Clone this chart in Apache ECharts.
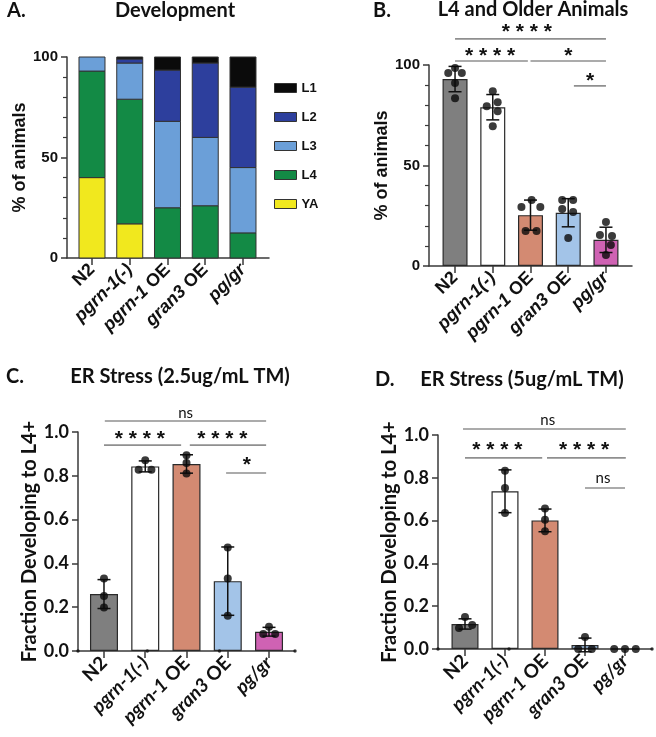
<!DOCTYPE html>
<html>
<head>
<meta charset="utf-8">
<script src="https://cdn.jsdelivr.net/npm/echarts@6/dist/echarts.min.js"></script>
<style>
  html, body { margin: 0; padding: 0; background: #fff; }
  #fig { width: 656px; height: 737px; }
</style>
</head>
<body>
<div id="fig"></div>
<script>
// strains (x categories)
var cats = ['N2', 'pgrn-1(-)', 'pgrn-1 OE', 'gran3 OE', 'pg/gr'];
var catRich = ['N2', '{i|pgrn-1(-)}', '{i|pgrn-1} OE', '{i|gran3} OE', '{i|pg/gr}'];

// A. Development (% of animals per stage, stacked bottom -> top)
var stages = ['L1', 'L2', 'L3', 'L4', 'YA'];
var devYA = [40, 17, 0, 0, 0];
var devL4 = [53, 62, 25, 26, 12.5];
var devL3 = [7, 18, 43, 34, 32.5];
var devL2 = [0, 2, 25.5, 37, 40];
var devL1 = [0, 1, 6.5, 3, 15];

// B. L4 and older animals (%)
var olderMean = [93, 79, 25.3, 26.5, 13];
var olderSd = [6.3, 6.3, 7.5, 7, 6.3];
var olderPts = [[98.5, 96, 96, 91, 83.5], [87, 79.5, 81.5, 77, 69.5], [32.8, 29.4, 29.4, 17.4, 17.4],
                [32.8, 32.8, 28.4, 26.9, 13.9], [21.9, 15.4, 14.9, 10.4, 5.5]];
var olderJit = [[0, -0.18, 0.18, 0, 0], [0, -0.16, 0.13, 0.13, 0], [0.03, -0.24, 0.26, -0.13, 0.16],
                [-0.16, 0.13, -0.16, 0.13, 0], [0, -0.16, 0.16, 0.13, 0]];
var olderBrackets = [[0, 4, 113], [0, 1.93, 102], [2, 4, 102], [3.15, 4, 89.6]];
var olderStars = [[1.9, 116.5, '* * * *'], [0.93, 104.5, '* * * *'], [3, 104.5, '*'], [3.58, 92, '*']];

// C. ER stress 2.5ug/mL TM (fraction developing to L4+)
var tm25Mean = [0.26, 0.843, 0.854, 0.319, 0.088];
var tm25Sd = [0.066, 0.025, 0.042, 0.156, 0.02];
var tm25Pts = [[0.331, 0.251, 0.199], [0.871, 0.828, 0.828], [0.894, 0.859, 0.81], [0.473, 0.331, 0.161], [0.111, 0.078, 0.078]];
var tm25Jit = [[0, 0, 0], [0, -0.16, 0.15], [0, 0, 0], [0, 0, 0], [0, -0.14, 0.15]];
var tm25Stray = [-0.63, 1.05, 2.8, 4.63];
var tm25Brackets = [[0.02, 3.93, 1.05], [0, 1.87, 0.94], [2.08, 3.93, 0.94], [2.96, 3.93, 0.813]];
var tm25Stars = [[1.98, 1.087, 'ns'], [0.87, 0.967, '* * * *'], [2.87, 0.967, '* * * *'], [3.46, 0.848, '*']];

// D. ER stress 5ug/mL TM
var tm5Mean = [0.117, 0.737, 0.601, 0.019, 0];
var tm5Sd = [0.024, 0.1, 0.053, 0.032, 0];
var tm5Pts = [[0.15, 0.098, 0.112], [0.833, 0.752, 0.636], [0.656, 0.604, 0.55], [0.056, 0, 0], [0, 0, 0]];
var tm5Jit = [[0, -0.15, 0.18], [0, 0, 0], [0, 0, 0], [0, -0.17, 0.17], [-0.27, 0, 0.27]];
var tm5Stray = [-0.675, 1.1, 4.675];
var tm5Brackets = [[-0.05, 4.02, 1.028], [0, 1.93, 0.893], [2.05, 4.02, 0.893], [3.0, 4.0, 0.752]];
var tm5Stars = [[2.07, 1.07, 'ns'], [0.81, 0.93, '* * * *'], [2.98, 0.93, '* * * *'], [3.45, 0.8, 'ns']];

var stageColors = { L1: '#0b0b0b', L2: '#2d3f9d', L3: '#6b9fd8', L4: '#138a45', YA: '#f1e81e' };
var strainColors = ['#7f7f7f', '#ffffff', '#d38a72', '#a3c4e8', '#cf62b3'];

var ARIAL = '"Liberation Sans", Arial, sans-serif';
var CAL = 'Lato, "Open Sans", sans-serif';

var fig = echarts.init(document.getElementById('fig'));

function xAxisFor(i, min, max, font, size) {
  return {
    type: 'value', gridIndex: i, min: min, max: max,
    splitLine: { show: false },
    axisLine: { onZero: false, lineStyle: { color: '#3a3a3a', width: 1.5 } },
    axisTick: { customValues: [0, 1, 2, 3, 4], length: 7, lineStyle: { color: '#3a3a3a', width: 1.5 } },
    axisLabel: {
      customValues: [0, 1, 2, 3, 4], rotate: 45, margin: 9,
      fontFamily: font, fontWeight: 'bold', fontSize: size, color: '#111',
      formatter: function (v) { return catRich[Math.round(v)]; },
      rich: { i: { fontFamily: font, fontWeight: 'bold', fontStyle: 'italic', fontSize: size, color: '#111' } }
    }
  };
}

function yAxisFor(i, max, interval, minor, name, gap, font, size, nameSize, digits) {
  return {
    type: 'value', gridIndex: i, min: 0, max: max, interval: interval,
    name: name, nameLocation: 'middle', nameGap: gap,
    nameTextStyle: { fontFamily: font, fontWeight: 'bold', fontSize: nameSize, color: '#111' },
    splitLine: { show: false },
    axisLine: { show: true, onZero: false, lineStyle: { color: '#3a3a3a', width: 1.5 } },
    axisTick: { show: true, length: 6, lineStyle: { color: '#3a3a3a', width: 1.5 } },
    minorTick: { show: minor, splitNumber: 5, length: 4, lineStyle: { color: '#3a3a3a', width: 1.2 } },
    axisLabel: {
      fontFamily: font, fontWeight: 'bold', fontSize: size, color: '#111', margin: 9,
      formatter: function (v) { return digits ? v.toFixed(digits) : String(v); }
    }
  };
}

// stacked development bars, drawn as rects between running totals
var stackOrder = [['YA', devYA], ['L4', devL4], ['L3', devL3], ['L2', devL2], ['L1', devL1]];
var running = [0, 0, 0, 0, 0];
var stageSeries = stackOrder.map(function (s) {
  var below = running.slice();
  running = running.map(function (r, k) { return r + s[1][k]; });
  return {
    name: s[0], type: 'custom', xAxisIndex: 0, yAxisIndex: 0, z: 2,
    itemStyle: { color: stageColors[s[0]], borderColor: '#333', borderWidth: 1 },
    encode: { x: 0, y: [1, 2] },
    data: s[1].map(function (v, k) { return [k, below[k] + v, below[k]]; }),
    renderItem: function (params, api) {
      var top = api.coord([api.value(0), api.value(1)]);
      var bot = api.coord([api.value(0), api.value(2)]);
      if (bot[1] - top[1] < 0.01) return;
      return {
        type: 'rect',
        shape: { x: top[0] - 13, y: top[1], width: 26, height: bot[1] - top[1] },
        style: { fill: stageColors[s[0]], stroke: '#333', lineWidth: 1 }
      };
    }
  };
});

function meanBars(i, means, width) {
  return {
    type: 'bar', xAxisIndex: i, yAxisIndex: i, barWidth: width, z: 2,
    data: means.map(function (v, k) {
      return { value: [k, v], itemStyle: { color: strainColors[k], borderColor: '#2a2a2a', borderWidth: 1.2 } };
    })
  };
}

function errorBars(i, means, sds) {
  return {
    type: 'custom', xAxisIndex: i, yAxisIndex: i, z: 4,
    data: means.map(function (v, k) { return [k, v, sds[k]]; }),
    renderItem: function (params, api) {
      var x = api.value(0), m = api.value(1), s = api.value(2);
      if (!s) return;
      var hi = api.coord([x, m + s]), lo = api.coord([x, m - s]);
      var st = { stroke: '#111', lineWidth: 1.5 };
      return {
        type: 'group', children: [
          { type: 'line', shape: { x1: hi[0], y1: hi[1], x2: lo[0], y2: lo[1] }, style: st },
          { type: 'line', shape: { x1: hi[0] - 6.5, y1: hi[1], x2: hi[0] + 6.5, y2: hi[1] }, style: st },
          { type: 'line', shape: { x1: lo[0] - 6.5, y1: lo[1], x2: lo[0] + 6.5, y2: lo[1] }, style: st }
        ]
      };
    }
  };
}

function dots(i, pts, jit) {
  var data = [];
  pts.forEach(function (row, k) {
    row.forEach(function (v, j) { data.push([k + jit[k][j], v]); });
  });
  return {
    type: 'scatter', xAxisIndex: i, yAxisIndex: i, z: 5, symbolSize: 8,
    itemStyle: { color: '#0a0a0a' }, data: data
  };
}

function strayDots(i, xs) {
  return {
    type: 'scatter', xAxisIndex: i, yAxisIndex: i, z: 5, symbolSize: 3.5,
    itemStyle: { color: '#111' }, data: xs.map(function (x) { return [x, 0]; })
  };
}

function brackets(i, list) {
  return {
    type: 'custom', xAxisIndex: i, yAxisIndex: i, z: 3, clip: false,
    data: list.map(function (b) { return [b[0], b[2]]; }),
    renderItem: function (params, api) {
      var b = list[params.dataIndex];
      var p1 = api.coord([b[0], b[2]]), p2 = api.coord([b[1], b[2]]);
      return { type: 'line', shape: { x1: p1[0], y1: p1[1], x2: p2[0], y2: p2[1] },
               style: { stroke: '#8f8f8f', lineWidth: 1.6 } };
    }
  };
}

function starLabels(i, list) {
  return {
    type: 'custom', xAxisIndex: i, yAxisIndex: i, z: 3, clip: false,
    data: list.map(function (s) { return [s[0], s[1]]; }),
    renderItem: function (params, api) {
      var s = list[params.dataIndex];
      var p = api.coord([s[0], s[1]]);
      var isNs = s[2] === 'ns';
      return {
        type: 'text', x: p[0], y: p[1],
        style: {
          text: s[2], align: 'center', verticalAlign: 'middle', fill: '#111',
          fontFamily: isNs ? CAL : ARIAL, fontWeight: isNs ? 'normal' : 'bold',
          fontSize: isNs ? 15 : 21
        }
      };
    }
  };
}

function heading(text, left, top, center) {
  return {
    text: text, left: left, top: top, textAlign: center ? 'center' : 'left',
    textStyle: { fontFamily: CAL, fontWeight: 'bold', fontSize: 20, color: '#111' }
  };
}

var option = {
  animation: false,
  backgroundColor: '#fff',
  title: [
    heading('A.', 2, -4, false),
    heading('Development', 170, -4, true),
    heading('B.', 368, -4, false),
    heading('L4 and Older Animals', 528, -5, true),
    heading('C.', 1, 362, false),
    heading('ER Stress (2.5ug/mL TM)', 175, 362, true),
    heading('D.', 370, 365, false),
    heading('ER Stress (5ug/mL TM)', 517, 365, true)
  ],
  legend: {
    data: stages, orient: 'vertical', left: 269, top: 76, itemWidth: 22, itemHeight: 9, itemGap: 15,
    icon: 'rect', selectedMode: false,
    itemStyle: { borderColor: '#333', borderWidth: 1 },
    textStyle: { fontFamily: ARIAL, fontWeight: 'bold', fontSize: 13, color: '#111', lineHeight: 14 }
  },
  grid: [
    { left: 67, top: 57, width: 202, height: 201 },
    { left: 429, top: 65, width: 203, height: 201 },
    { left: 78, top: 432, width: 217, height: 219 },
    { left: 438, top: 435, width: 214, height: 214 }
  ],
  xAxis: [
    xAxisFor(0, -0.662, 4.689, ARIAL, 18),
    xAxisFor(1, -0.69, 4.69, ARIAL, 18),
    xAxisFor(2, -0.63, 4.63, CAL, 19),
    xAxisFor(3, -0.675, 4.675, CAL, 19)
  ],
  yAxis: [
    yAxisFor(0, 100, 50, true, '% of animals', 28, ARIAL, 15, 18, 0),
    yAxisFor(1, 100, 50, true, '% of animals', 29, ARIAL, 15, 18, 0),
    yAxisFor(2, 1, 0.2, false, 'Fraction Developing to L4+', 33, CAL, 18, 20, 1),
    yAxisFor(3, 1, 0.2, false, 'Fraction Developing to L4+', 35, CAL, 18, 20, 1)
  ],
  series: stageSeries.concat([
    meanBars(1, olderMean, 25), errorBars(1, olderMean, olderSd), dots(1, olderPts, olderJit),
    brackets(1, olderBrackets), starLabels(1, olderStars),
    meanBars(2, tm25Mean, 28), errorBars(2, tm25Mean, tm25Sd), dots(2, tm25Pts, tm25Jit),
    strayDots(2, tm25Stray), brackets(2, tm25Brackets), starLabels(2, tm25Stars),
    meanBars(3, tm5Mean, 27), errorBars(3, tm5Mean, tm5Sd), dots(3, tm5Pts, tm5Jit),
    strayDots(3, tm5Stray), brackets(3, tm5Brackets), starLabels(3, tm5Stars)
  ])
};

fig.setOption(option);
</script>
</body>
</html>
